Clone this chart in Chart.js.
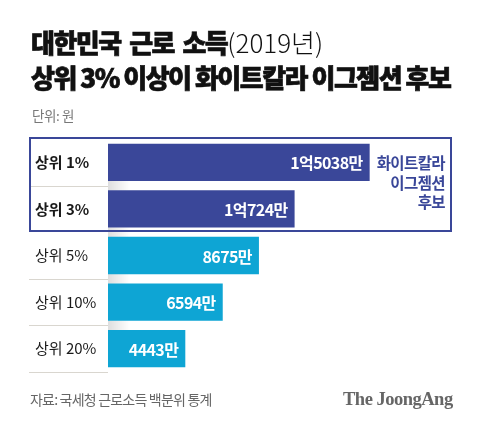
<!DOCTYPE html>
<html><head><meta charset="utf-8">
<script src="https://cdn.jsdelivr.net/npm/chart.js@4.4.1/dist/chart.umd.min.js"></script>
<style>
html,body{margin:0;padding:0;background:#fff;}
body{width:480px;height:426px;position:relative;overflow:hidden;font-family:"Noto Sans CJK KR","Noto Sans",sans-serif;}
#wrap{position:absolute;left:0;top:0;width:480px;height:426px;}
.t{position:absolute;white-space:nowrap;}
#t1,#t2{left:31px;font-size:26px;font-weight:900;letter-spacing:-1.5px;color:#111;line-height:34px;-webkit-text-stroke:0.7px #111;}
#t1{top:25px;word-spacing:4px;}
#t1 span{font-weight:300;letter-spacing:0px;-webkit-text-stroke:0;}
#t2{top:60px;}
#unit{left:32px;top:106px;font-size:13.5px;color:#777;letter-spacing:-0.4px;line-height:18px;}
#src{left:30px;top:389px;font-size:14px;color:#666;letter-spacing:-0.8px;line-height:20px;}
#logo{left:343px;top:387px;font-family:"Liberation Serif","DejaVu Serif",serif;font-weight:700;font-size:18.5px;color:#666;letter-spacing:-0.5px;line-height:24px;}
#box{position:absolute;left:29px;top:137px;width:419px;height:91px;border:2px solid #3a4799;}
#note{position:absolute;right:35px;top:153px;text-align:right;font-size:15.5px;font-weight:700;color:#3a4799;line-height:19.5px;letter-spacing:-0.6px;}
</style></head>
<body>
<div id="wrap"><canvas id="c" width="480" height="426"></canvas></div>
<div class="t" id="t1">대한민국 근로 소득<span>(2019년)</span></div>
<div class="t" id="t2">상위 3% 이상이 화이트칼라 이그젬션 후보</div>
<div class="t" id="unit">단위: 원</div>
<div id="box"></div>
<div id="note">화이트칼라<br>이그젬션<br>후보</div>
<div class="t" id="src">자료: 국세청 근로소득 백분위 통계</div>
<div class="t" id="logo">The JoongAng</div>
<script>
const categories = ["상위 1%", "상위 3%", "상위 5%", "상위 10%", "상위 20%"];
const incomeMan = [15038, 10724, 8675, 6594, 4443];
const highlighted = [true, true, false, false, false];

const NAVY = "#3a4799";
const CYAN = "#0ea5d4";

function fmt(v){
  if (v >= 10000) return Math.floor(v/10000) + "억" + (v % 10000) + "만";
  return v + "만";
}

const decor = {
  id: "decor",
  beforeDatasetsDraw(chart){
    const ctx = chart.ctx, y = chart.scales.y, area = chart.chartArea;
    const step = (y.getPixelForValue(1) - y.getPixelForValue(0));
    ctx.save();
    ctx.strokeStyle = "#d9d6cf";
    ctx.lineWidth = 1;
    for (let i = 0; i < categories.length; i++){
      const yy = Math.round(y.getPixelForValue(i) + step/2) + 0.5;
      if (i === 1) continue;
      ctx.beginPath(); ctx.moveTo(29, yy); ctx.lineTo(area.left, yy); ctx.stroke();
    }
    for (let i = 0; i < categories.length - 1; i++){
      const yy = y.getPixelForValue(i) + step/2;
      const g = ctx.createLinearGradient(area.left, 0, area.left + 22, 0);
      g.addColorStop(0, "rgba(0,0,0,0.13)");
      g.addColorStop(1, "rgba(0,0,0,0)");
      ctx.fillStyle = g;
      ctx.fillRect(area.left, yy - 5, 22, 10);
    }
    ctx.restore();
  },
  afterDatasetsDraw(chart){
    const ctx = chart.ctx;
    const meta = chart.getDatasetMeta(0);
    ctx.save();
    ctx.font = "700 16px 'Noto Sans CJK KR', sans-serif";
    ctx.letterSpacing = "-0.6px";
    ctx.fillStyle = "#fff";
    ctx.textAlign = "right";
    ctx.textBaseline = "middle";
    meta.data.forEach((bar, i) => {
      ctx.fillText(fmt(incomeMan[i]), bar.x - 7, bar.y + 1);
    });
    ctx.restore();
  }
};

new Chart(document.getElementById("c"), {
  type: "bar",
  data: {
    labels: categories,
    datasets: [{
      data: incomeMan,
      backgroundColor: highlighted.map(h => h ? NAVY : CYAN),
      borderWidth: 0,
      categoryPercentage: 1,
      barPercentage: 0.8
    }]
  },
  options: {
    indexAxis: "y",
    responsive: false,
    animation: false,
    devicePixelRatio: 1,
    layout: { padding: { left: 35, right: 24, top: 139, bottom: 54 } },
    plugins: { legend: { display: false }, tooltip: { enabled: false } },
    scales: {
      x: { display: false, min: 0, max: 20000 },
      y: {
        grid: { display: false, drawTicks: false },
        border: { display: false },
        afterFit(scale){ scale.width = 73; },
        ticks: {
          crossAlign: "far",
          padding: 0,
          color: "#1a1a1a",
          font: (c) => ({ family: "'Noto Sans CJK KR', sans-serif", size: 15, weight: highlighted[c.index] ? "700" : "400" })
        }
      }
    }
  },
  plugins: [decor]
});
</script>
</body></html>
